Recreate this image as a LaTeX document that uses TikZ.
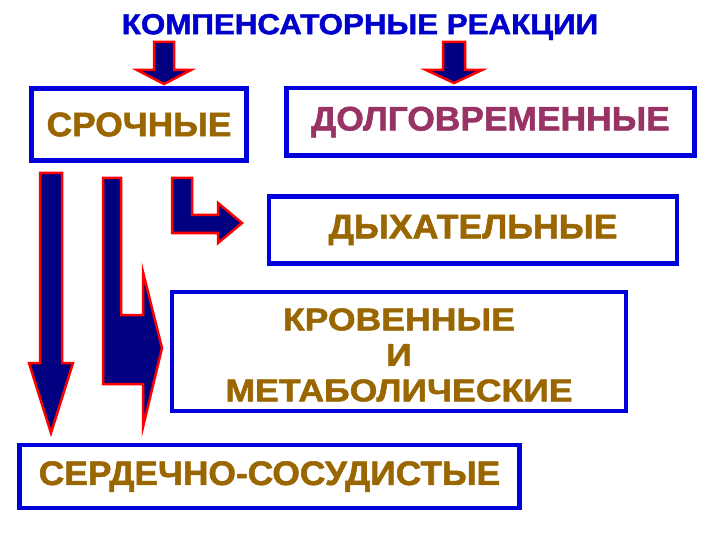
\documentclass[tikz,border=0pt]{standalone}
\usepackage{graphicx}
\usepackage{fontspec}
\setmainfont{Liberation Sans}[BoldFeatures={FakeBold=1.5}]
\definecolor{boxblue}{RGB}{0,0,220}
\definecolor{titleblue}{RGB}{0,0,204}
\definecolor{brown}{RGB}{153,102,0}
\definecolor{maroon}{RGB}{153,51,102}
\definecolor{navyfill}{RGB}{0,0,128}
\definecolor{arrred}{RGB}{255,0,0}
\newcommand{\wide}[2]{\scalebox{#1}[1]{#2}}
\tikzset{
  box/.style={draw=boxblue, line width=4.5pt, rectangle, inner sep=0pt, align=center, text=brown},
  bigtext/.style={font=\fontsize{34}{38}\selectfont\bfseries},
  blockarrow/.style={fill=navyfill, draw=arrred, line width=2.5pt, line join=miter},
}
\begin{document}
\begin{tikzpicture}[x=1pt,y=-1pt]
\useasboundingbox (0,0) rectangle (720,540);
\fill[white] (0,0) rectangle (720,540);
% title
\node[font=\fontsize{29}{32}\selectfont\bfseries, text=titleblue, inner sep=0pt] (title) at (360,27) {\wide{1.08}{КОМПЕНСАТОРНЫЕ РЕАКЦИИ}};
% boxes
\node[box, bigtext, minimum width=215pt, minimum height=72pt] (srochnye) at (139,124.5) {\wide{1.04}{СРОЧНЫЕ}};
\node[box, bigtext, text=maroon, minimum width=408pt, minimum height=67.5pt] (dolgo) at (490.5,122) {\wide{1.04}{ДОЛГОВРЕМЕННЫЕ}};
\node[box, bigtext, minimum width=408pt, minimum height=67pt] (dyhat) at (473,230) {\wide{1.05}{ДЫХАТЕЛЬНЫЕ}};
\node[box, minimum width=454pt, minimum height=119pt] (krov) at (399,351.5) {};
\node[font=\fontsize{31.5}{35.5}\selectfont\bfseries, text=brown, align=center, inner sep=0pt] (krovtext) at (399,355) {\wide{1.13}{КРОВЕННЫЕ}\\\wide{1.13}{И}\\\wide{1.13}{МЕТАБОЛИЧЕСКИЕ}};
\node[box, bigtext, minimum width=500pt, minimum height=63pt] (serd) at (269.5,476.5) {\wide{1.04}{СЕРДЕЧНО-СОСУДИСТЫЕ}};
% top arrows
\draw[blockarrow] (154,42) -- (174,42) -- (174,70) -- (191,70) -- (164,84) -- (137,70) -- (154,70) -- cycle;
\draw[blockarrow] (443,42) -- (465,42) -- (465,70) -- (482,70) -- (454,83) -- (426,70) -- (443,70) -- cycle;
% long down arrow
\draw[blockarrow] (40,173) -- (62,173) -- (62,363) -- (73,363) -- (51,433) -- (29,363) -- (40,363) -- cycle;
% big L arrow
\draw[blockarrow] (103,178) -- (121,178) -- (121,315) -- (143,315) -- (143,272) -- (162,348) -- (143,427) -- (143,384) -- (103,384) -- cycle;
% small L arrow
\draw[blockarrow] (172,178) -- (192,178) -- (192,215) -- (218,215) -- (218,203) -- (242,223) -- (218,243) -- (218,233) -- (172,233) -- cycle;
\end{tikzpicture}
\end{document}
